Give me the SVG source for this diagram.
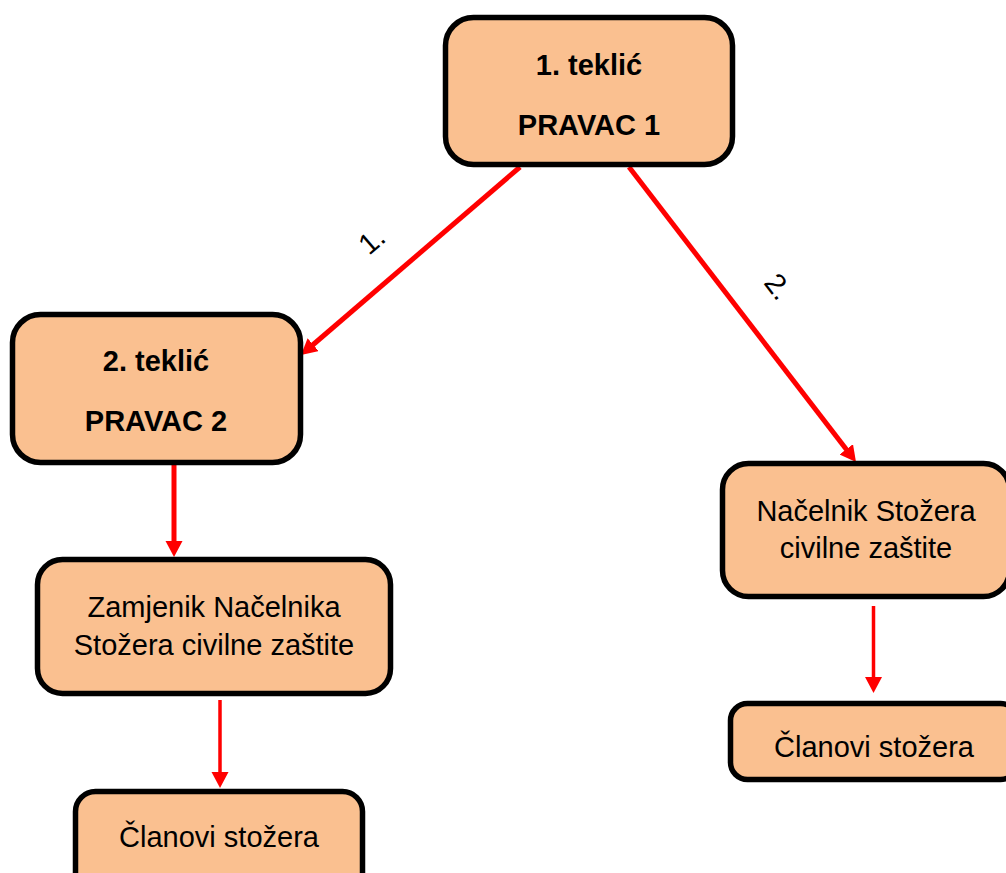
<svg xmlns="http://www.w3.org/2000/svg" width="1006" height="873" viewBox="0 0 1006 873">
<style>
.node rect{fill:#FAC090;stroke:#000;stroke-width:5.5}
.t{font-family:"Liberation Sans",Arial,sans-serif;font-size:29px;fill:#000;text-anchor:middle}
.b{font-weight:bold}
.lbl{font-family:"Liberation Sans",Arial,sans-serif;font-size:29px;fill:#000}
.c{stroke:#FF0000;fill:none}
</style>
<defs>
<marker id="ah" markerUnits="userSpaceOnUse" markerWidth="18" markerHeight="18" refX="6" refY="8.5" orient="auto">
<path d="M0,0 L16,8.5 L0,17 z" fill="#FF0000"/>
</marker>
</defs>
<rect width="1006" height="873" fill="#fff"/>
<g id="connectors">
<line class="c" x1="520" y1="167" x2="308.6" y2="348.5" stroke-width="5" marker-end="url(#ah)"/>
<line class="c" x1="629" y1="167" x2="849.9" y2="454.1" stroke-width="5" marker-end="url(#ah)"/>
<line class="c" x1="174" y1="465" x2="174" y2="547" stroke-width="5" marker-end="url(#ah)"/>
<line class="c" x1="220" y1="700" x2="220" y2="778" stroke-width="3.5" marker-end="url(#ah)"/>
<line class="c" x1="873.5" y1="606" x2="873.5" y2="683" stroke-width="3.5" marker-end="url(#ah)"/>
<text class="lbl" transform="translate(369,256) rotate(-40.6)">1.</text>
<text class="lbl" transform="translate(763,283) rotate(52.6)">2.</text>
</g>
<g id="n1" class="node">
<rect x="445.5" y="17.5" width="287" height="147" rx="28"/>
<text class="t b" x="589" y="75">1. teklić</text>
<text class="t b" x="589" y="135">PRAVAC 1</text>
</g>
<g id="n2" class="node">
<rect x="12.5" y="314.5" width="288" height="148" rx="28"/>
<text class="t b" x="156" y="371">2. teklić</text>
<text class="t b" x="156" y="431">PRAVAC 2</text>
</g>
<g id="n3" class="node">
<rect x="37.5" y="559.5" width="353" height="134" rx="25"/>
<text class="t" x="214" y="617">Zamjenik Načelnika</text>
<text class="t" x="214" y="655">Stožera civilne zaštite</text>
</g>
<g id="n4" class="node">
<rect x="75.5" y="791.5" width="287" height="110" rx="20"/>
<text class="t" x="219" y="847">Članovi stožera</text>
</g>
<g id="n5" class="node">
<rect x="722.5" y="463.5" width="287" height="133" rx="26"/>
<text class="t" x="866" y="521">Načelnik Stožera</text>
<text class="t" x="866" y="558">civilne zaštite</text>
</g>
<g id="n6" class="node">
<rect x="730.5" y="703.5" width="287" height="76" rx="17"/>
<text class="t" x="874" y="757">Članovi stožera</text>
</g>
</svg>
